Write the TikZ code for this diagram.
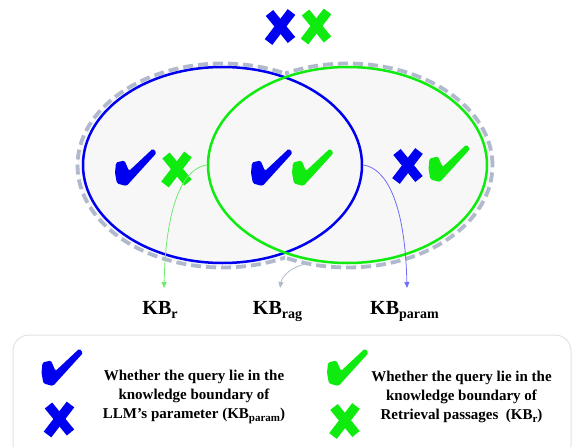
\documentclass[tikz,border=0pt]{standalone}
\usepackage{fontspec}
\setmainfont{Liberation Serif}
\usetikzlibrary{shapes.geometric,arrows.meta}
\definecolor{mblue}{RGB}{0,0,240}
\definecolor{mgreen}{RGB}{15,235,15}
\definecolor{dgray}{RGB}{176,186,204}
\definecolor{fillgray}{RGB}{247,247,248}
\definecolor{agreen}{RGB}{110,235,110}
\definecolor{ablue}{RGB}{110,110,250}
\definecolor{boxgray}{RGB}{226,226,226}
\newcommand\subx[1]{\raisebox{-0.2em}{\fontsize{14}{14}\selectfont #1}}
\newcommand\subl[1]{\raisebox{-0.2em}{\fontsize{11}{11}\selectfont #1}}
\tikzset{
  chk/.pic={\fill[rounded corners=1.5pt] (-19.5,-5) -- (-11,-7) -- (-6.5,3.5) -- (17.5,-19) -- (21,-14.5) -- (-9,18.5) -- (-18.5,16) -- (-20.5,5.5) -- cycle;},
  crs/.pic={\draw[line width=9.5pt] (12,-15) -- (-11,15); \draw[line width=9.5pt] (-10,-14) -- (12,13);},
  bound/.style={ellipse, line width=2.5pt, minimum width=279pt, minimum height=196pt, inner sep=0pt},
  dashb/.style={dgray, line width=3.8pt, dash pattern=on 10pt off 5pt},
  lbl/.style={font=\bfseries\fontsize{20}{24}\selectfont, inner sep=0pt, anchor=base},
  legtxt/.style={font=\bfseries\fontsize{15}{19}\selectfont, align=center, inner sep=0pt},
  arr/.style={line width=0.8pt, -{Triangle[length=6pt,width=5pt]}},
}
\begin{document}
\begin{tikzpicture}[x=1pt,y=-1pt]
\useasboundingbox (0,0) rectangle (573,447);
% union fill
\fill[fillgray] (222.5,165.5) ellipse [x radius=145pt, y radius=102pt];
\fill[fillgray] (347.5,165.5) ellipse [x radius=145pt, y radius=102pt];
% dashed union outline
\begin{scope}
  \clip (0,0) rectangle (285,447);
  \draw[dashb] (222.5,165.5) ellipse [x radius=145pt, y radius=102pt];
\end{scope}
\begin{scope}
  \clip (285,0) rectangle (573,447);
  \draw[dashb] (347.5,165.5) ellipse [x radius=145pt, y radius=102pt];
\end{scope}
% boundaries
\node[bound, draw=mblue] (blue) at (222.5,165) {};
\node[bound, draw=mgreen] (green) at (347.5,165) {};
% marks
\pic[color=mblue] (topx1) at (279.5,27) {crs};
\pic[color=mgreen] (topx2) at (315.5,26.5) {crs};
\pic[color=mblue] (lc) at (135.5,167.5) {chk};
\pic[color=mgreen] (lx) at (176,169.5) {crs};
\pic[color=mblue] (mc1) at (271.5,167.5) {chk};
\pic[color=mgreen] (mc2) at (312.5,167.5) {chk};
\pic[color=mblue] (rx) at (407,166) {crs};
\pic[color=mgreen] (rc) at (449,163.5) {chk};
% arrows
\coordinate (tr) at (164,288);
\coordinate (tp) at (407,288);
\coordinate (tg) at (280,288);
\coordinate (gs) at (307,264);
\draw[arr, agreen] (green.west) .. controls (185,168) and (166,200) .. (tr);
\draw[arr, ablue] (blue.east) .. controls (385,168) and (405,200) .. (tp);
\draw[arr, dgray] (gs) .. controls (292,266) and (282,276) .. (tg);
% labels
\node[lbl] (kbr) at (160,314) {KB\subx{r}};
\node[lbl] (kbrag) at (277.5,314) {KB\subx{rag}};
\node[lbl] (kbparam) at (404.5,314) {KB\subx{param}};
% legend
\draw[boxgray, line width=1pt, rounded corners=16pt] (13,335) rectangle (571,460);
\pic[color=mblue] (l1) at (62,367.5) {chk};
\pic[color=mblue] (l2) at (58.5,419.5) {crs};
\pic[color=mgreen] (l3) at (347.5,367.5) {chk};
\pic[color=mgreen] (l4) at (344,421) {crs};
\node[legtxt] (t1) at (194,397) {Whether the query lie in the\\knowledge boundary of\\LLM’s parameter (KB\subl{param})};
\node[legtxt] (t2) at (461.5,397) {Whether the query lie in the\\knowledge boundary of\\Retrieval passages\ \ (KB\subl{r})};
\end{tikzpicture}
\end{document}
